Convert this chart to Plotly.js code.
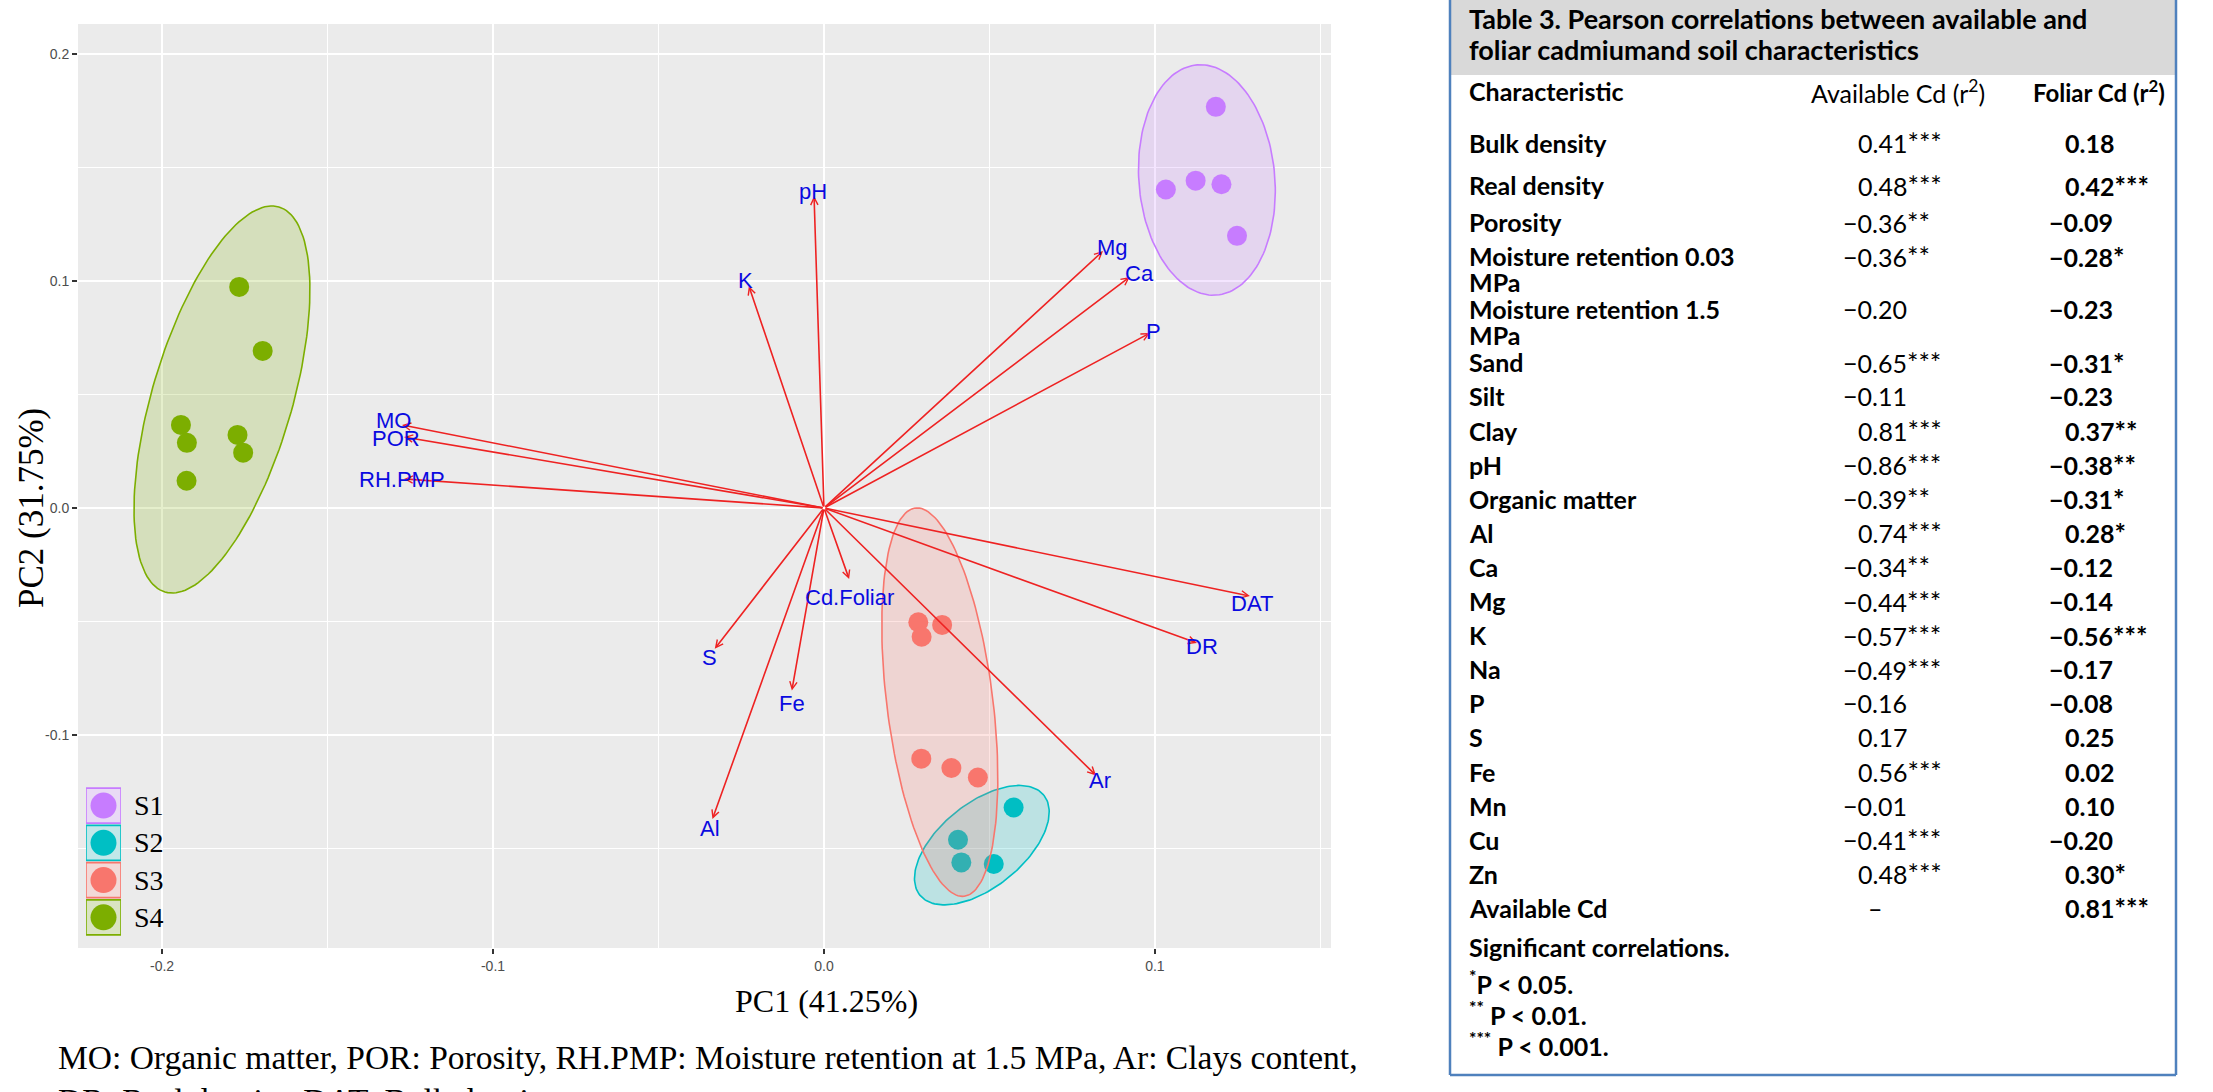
<!DOCTYPE html>
<html>
<head>
<meta charset="utf-8">
<script src="https://cdn.plot.ly/plotly-3.0.1.min.js"></script>
<style>
html,body{margin:0;padding:0;background:#ffffff;}
#chart{width:2213px;height:1092px;}
</style>
</head>
<body>
<div id="chart"></div>
<script>
// ---------------- DATA ----------------
// PCA variable loadings (arrow tips)
const varNames = ['pH','K','Mg','Ca','P','MO','POR','RH.PMP','DAT','DR','Ar','Cd.Foliar','S','Fe','Al'];
const varPC1 = [-0.0030,-0.0227,0.0843,0.0924,0.0985,-0.1275,-0.1269,-0.1269,0.1287,0.1127,0.0822,0.0076,-0.0330,-0.0097,-0.0337];
const varPC2 = [0.1374,0.0978,0.1132,0.1018,0.0771,0.0366,0.0313,0.0128,-0.0388,-0.0595,-0.1178,-0.0313,-0.0620,-0.0804,-0.1370];

// Sample scores per site
const groups = ['S1','S2','S3','S4'];
const s1PC1 = [0.1184,0.1033,0.1123,0.1201,0.1248];
const s1PC2 = [0.1767,0.1403,0.1442,0.1426,0.1199];
const s2PC1 = [0.0573,0.0405,0.0415,0.0513];
const s2PC2 = [-0.1319,-0.1461,-0.1561,-0.1568];
const s3PC1 = [0.0285,0.0295,0.0357,0.0294,0.0385,0.0465];
const s3PC2 = [-0.0503,-0.0567,-0.0515,-0.1104,-0.1145,-0.1187];
const s4PC1 = [-0.1767,-0.1696,-0.1943,-0.1925,-0.1772,-0.1755,-0.1926];
const s4PC2 = [0.0974,0.0692,0.0366,0.0287,0.0322,0.0244,0.0120];

// Confidence ellipses (centre + two conjugate half-axes)
const ellCx = [0.1157,0.0477,0.0350,-0.1819];
const ellCy = [0.1445,-0.1485,-0.0855,0.0478];
const ellUx = [-0.0030,0.01873,-0.0074,0.01722];
const ellUy = [0.0507,0.02203,0.0855,0.0848];
const ellVx = [0.02046,0.00797,0.01589,0.02025];
const ellVy = [0.0026,-0.01440,0.00293,-0.00874];

// Axis ticks
const xTickVals = [-0.2,-0.1,0.0,0.1];
const xTickLabels = ['-0.2','-0.1','0.0','0.1'];
const yTickVals = [-0.1,0.0,0.1,0.2];
const yTickLabels = ['-0.1','0.0','0.1','0.2'];

// Table 3
const characteristics = ['Bulk density','Real density','Porosity','Moisture retention 0.03\nMPa','Moisture retention 1.5\nMPa','Sand','Silt','Clay','pH','Organic matter','Al','Ca','Mg','K','Na','P','S','Fe','Mn','Cu','Zn','Available Cd'];
const availR   = [0.41,0.48,-0.36,-0.36,-0.20,-0.65,-0.11,0.81,-0.86,-0.39,0.74,-0.34,-0.44,-0.57,-0.49,-0.16,0.17,0.56,-0.01,-0.41,0.48,null];
const availSig = ['***','***','**','**','','***','','***','***','**','***','**','***','***','***','','','***','','***','***',''];
const foliarR   = [0.18,0.42,-0.09,-0.28,-0.23,-0.31,-0.23,0.37,-0.38,-0.31,0.28,-0.12,-0.14,-0.56,-0.17,-0.08,0.25,0.02,0.10,-0.20,0.30,0.81];
const foliarSig = ['','***','','*','','*','','**','**','*','*','','','***','','','','','','','*','***'];

// ---------------- STYLE ----------------
const W = 2213, H = 1092;
const px = v => v / W;
const py = v => 1 - v / H;
const groupColors = ['#C77CFF','#00BFC4','#F8766D','#7CAE00'];
const rgba = (hex,a) => {
  const n = parseInt(hex.slice(1),16);
  return `rgba(${(n>>16)&255},${(n>>8)&255},${n&255},${a})`;
};
const mix = (hex, a, bg) => {
  const n = parseInt(hex.slice(1),16);
  const c = [(n>>16)&255,(n>>8)&255,n&255];
  return `rgb(${c.map((v,i)=>Math.round(bg[i]*(1-a)+v*a)).join(',')})`;
};
const labelNudge = { // pixel offsets of label centre from arrow tip (right, down)
  'pH':[-1,-5],'K':[-3,-5],'Mg':[10,-4],'Ca':[10,-3],'P':[4,-1],'MO':[-9,-4],'POR':[-8,2],
  'RH.PMP':[-2,1],'DAT':[2,7],'DR':[5,3],'Ar':[4,5],'Cd.Foliar':[0,18],'S':[-5,9],'Fe':[0,13],'Al':[-2,9]
};

const serif = 'Liberation Serif, Times New Roman, serif';
const sans = 'Liberation Sans, Arial, sans-serif';
const tableFont = 'Lato, Carlito, Calibri, sans-serif';
const tfs = 25;

// ---------------- TRACES ----------------
const scoreX = [s1PC1,s2PC1,s3PC1,s4PC1];
const scoreY = [s1PC2,s2PC2,s3PC2,s4PC2];
const traces = [];
groups.forEach((g,i)=>{
  traces.push({type:'scatter',mode:'markers',x:scoreX[i],y:scoreY[i],xaxis:'x',yaxis:'y',
    marker:{size:20,color:groupColors[i],line:{width:0}},showlegend:false,hoverinfo:'skip'});
});
groups.forEach((g,i)=>{
  const ex=[], ey=[];
  for(let k=0;k<=160;k++){
    const t = 2*Math.PI*k/160;
    ex.push(ellCx[i] + ellUx[i]*Math.cos(t) + ellVx[i]*Math.sin(t));
    ey.push(ellCy[i] + ellUy[i]*Math.cos(t) + ellVy[i]*Math.sin(t));
  }
  traces.push({type:'scatter',mode:'lines',x:ex,y:ey,xaxis:'x',yaxis:'y',fill:'toself',
    fillcolor:rgba(groupColors[i],0.2),line:{color:groupColors[i],width:1.6},showlegend:false,hoverinfo:'skip'});
});
// legend keys (own mini axes)
traces.push({type:'scatter',mode:'markers',x:groups.map(()=>0),y:groups,xaxis:'x2',yaxis:'y2',
  marker:{size:26,color:groupColors},showlegend:false,hoverinfo:'skip'});

// ---------------- ANNOTATIONS ----------------
const ann = [];
// arrows
varNames.forEach((n,i)=>{
  ann.push({xref:'x',yref:'y',axref:'x',ayref:'y',x:varPC1[i],y:varPC2[i],ax:0,ay:0,text:'',
    showarrow:true,arrowcolor:'#EE2222',arrowwidth:1.6,arrowhead:5,arrowsize:0.9,standoff:0,startstandoff:0});
});
varNames.forEach((n,i)=>{
  const d = labelNudge[n] || [0,0];
  ann.push({xref:'x',yref:'y',x:varPC1[i],y:varPC2[i],text:n,showarrow:false,xanchor:'center',yanchor:'middle',
    xshift:d[0],yshift:-d[1],font:{family:sans,size:22,color:'#0A0AE0'}});
});
// legend labels
groups.forEach((g,i)=>{
  ann.push({xref:'paper',yref:'y2',x:px(132),y:g,text:g,showarrow:false,xanchor:'left',yanchor:'middle',
    font:{family:serif,size:28,color:'#000'}});
});
// axis titles
ann.push({xref:'paper',yref:'paper',x:px(826),y:py(1001),text:'PC1 (41.25%)',showarrow:false,xanchor:'center',yanchor:'middle',
  font:{family:serif,size:32,color:'#000'}});
ann.push({xref:'paper',yref:'paper',x:px(31),y:py(508),text:'PC2 (31.75%)',showarrow:false,xanchor:'center',yanchor:'middle',textangle:-90,
  font:{family:serif,size:35,color:'#000'}});
// caption
ann.push({xref:'paper',yref:'paper',x:px(56),y:py(1057),text:'MO: Organic matter, POR: Porosity, RH.PMP: Moisture retention at 1.5 MPa, Ar: Clays content,',
  showarrow:false,xanchor:'left',yanchor:'middle',font:{family:serif,size:33.5,color:'#000'}});
ann.push({xref:'paper',yref:'paper',x:px(56),y:py(1080),text:'DR: Real density, DAT: Bulk density',
  showarrow:false,xanchor:'left',yanchor:'top',font:{family:serif,size:33.5,color:'#000'}});

// table
const T = (text,x,y,opt={}) => ann.push(Object.assign({xref:'paper',yref:'paper',x:px(x),y:py(y),text:text,showarrow:false,
  xanchor:'left',yanchor:'middle',font:{family:tableFont,size:tfs,color:'#000'}},opt));
const B = s => '<b>'+s+'</b>';
const star = s => s ? '<span style="font-size:27px">'+s+'</span>' : '';
const fmt = v => (v<0?'\u2212':'') + Math.abs(v).toFixed(2);
T(B('Table 3. Pearson correlations between available and'),1467,18,{font:{family:tableFont,size:27,color:'#000'}});
T(B('foliar cadmiumand soil characteristics'),1467,50,{font:{family:tableFont,size:27,color:'#000'}});
T(B('Characteristic'),1467,91);
T('Available Cd (r<sup>2</sup>)',1809,91);
T(B('Foliar Cd (r<sup>2</sup>)'),2031,91,{font:{family:tableFont,size:24,color:'#000'}});
const availX = 1856, foliarX = 2063, minusW = 15;
let ry = 143;
characteristics.forEach((c,i)=>{
  const lines = c.split('\n');
  lines.forEach((l,k)=>T(B(l),1467,ry+26*k));
  if(availR[i]===null){
    T('\u2013',availX+19,ry,{xanchor:'center'});
  } else {
    T(fmt(availR[i])+star(availSig[i]), availX-(availR[i]<0?minusW:0), ry);
  }
  T(B(fmt(foliarR[i])+star(foliarSig[i])), foliarX-(foliarR[i]<0?minusW+1:0), ry);
  ry += (lines.length>1 ? 53 : 34.1) + (i===0 ? 8 : i===1 ? 3 : 0);
});
const lastY = ry - 34.1;
T(B('Significant correlations.'),1467,lastY+39);
T(B('<sup>*</sup>P < 0.05.'),1467,lastY+75);
T(B('<sup>**</sup> P < 0.01.'),1467,lastY+106);
T(B('<sup>***</sup> P < 0.001.'),1467,lastY+137);

// ---------------- SHAPES ----------------
const shapes = [];
const tableBlue = '#4F81BD';
shapes.push({type:'rect',xref:'paper',yref:'paper',x0:px(1450),x1:px(2176),y0:py(75),y1:py(-2),fillcolor:'#D9D9D9',line:{width:0},layer:'below'});
shapes.push({type:'line',xref:'paper',yref:'paper',x0:px(1450),x1:px(1450),y0:py(-2),y1:py(1075),line:{color:tableBlue,width:2.5}});
shapes.push({type:'line',xref:'paper',yref:'paper',x0:px(2176),x1:px(2176),y0:py(-2),y1:py(1075),line:{color:tableBlue,width:2.5}});
shapes.push({type:'line',xref:'paper',yref:'paper',x0:px(1450),x1:px(2176),y0:py(1075),y1:py(1075),line:{color:tableBlue,width:2.5}});
groups.forEach((g,i)=>{
  shapes.push({type:'rect',xref:'x2',yref:'y2',x0:-0.5,x1:0.5,y0:i-0.47,y1:i+0.47,layer:'below',
    fillcolor:mix(groupColors[i],0.2,[242,242,242]),line:{color:groupColors[i],width:1.6}});
});

// ---------------- LAYOUT ----------------
const layout = {
  width:W,height:H,margin:{l:0,r:0,t:0,b:0},paper_bgcolor:'#ffffff',plot_bgcolor:'#EBEBEB',
  showlegend:false,
  xaxis:{domain:[px(78),px(1331)],range:[-0.2254,0.1532],anchor:'y',tickvals:xTickVals,ticktext:xTickLabels,
    ticks:'outside',ticklen:5,tickwidth:1.5,tickcolor:'#333333',tickfont:{family:sans,size:14,color:'#4D4D4D'},
    showgrid:true,gridcolor:'#FFFFFF',gridwidth:2.6,zeroline:false,showline:false,
    minor:{tickvals:[-0.15,-0.05,0.05,0.15],showgrid:true,gridcolor:'#FFFFFF',gridwidth:1.3,ticks:''}},
  yaxis:{domain:[py(948),py(24)],range:[-0.1938,0.2132],anchor:'x',tickvals:yTickVals,ticktext:yTickLabels,
    ticks:'outside',ticklen:5,tickwidth:1.5,tickcolor:'#333333',tickfont:{family:sans,size:14,color:'#4D4D4D'},
    showgrid:true,gridcolor:'#FFFFFF',gridwidth:2.6,zeroline:false,showline:false,
    minor:{tickvals:[-0.15,-0.05,0.05,0.15],showgrid:true,gridcolor:'#FFFFFF',gridwidth:1.3,ticks:''}},
  xaxis2:{domain:[px(86),px(121)],range:[-0.5,0.5],anchor:'y2',visible:false,fixedrange:true},
  yaxis2:{domain:[py(936),py(787)],type:'category',categoryarray:groups,categoryorder:'array',range:[3.5,-0.5],anchor:'x2',visible:false,fixedrange:true},
  annotations:ann,
  shapes:shapes
};

Plotly.newPlot('chart',traces,layout,{displayModeBar:false,staticPlot:true});
</script>
</body>
</html>
